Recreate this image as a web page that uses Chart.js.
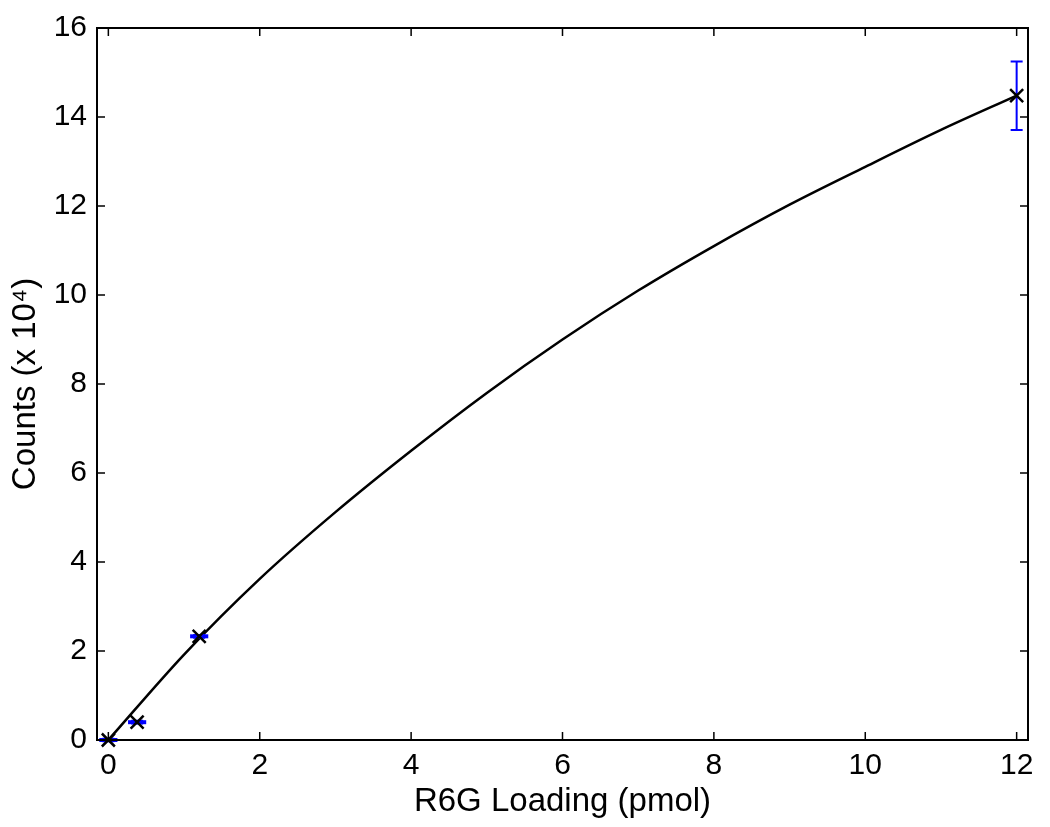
<!DOCTYPE html>
<html>
<head>
<meta charset="utf-8">
<script src="https://cdn.jsdelivr.net/npm/chart.js@4"></script>
<style>
  html, body { margin: 0; padding: 0; background: #fff; }
</style>
</head>
<body>
<canvas id="myChart" width="1050" height="827"></canvas>
<script>
// measured points (x = R6G loading, y = counts / 1e4)
const loading = [0, 0.38, 1.2, 12];
const counts = [0, 0.4, 2.33, 14.48];
const countsErr = [0.03, 0.03, 0.03, 0.77];
const loadingErr = [0.12, 0.12, 0.12, 0];

// fitted curve
const fitX = [0, 1, 2, 3, 4, 5, 6, 7, 8, 9, 10, 11, 12];
const fitY = [0, 1.92, 3.62, 5.12, 6.5, 7.8, 9.0, 10.1, 11.1, 12.03, 12.88, 13.71, 14.48];

const xTicks = [0, 2, 4, 6, 8, 10, 12];
const yTicks = [0, 2, 4, 6, 8, 10, 12, 14, 16];

const fontFamily = '"Liberation Sans", Arial, Helvetica, sans-serif';

const errorBars = {
    id: 'errorBars',
    afterDatasetsDraw(chart) {
        const ctx = chart.ctx;
        const xs = chart.scales.x, ys = chart.scales.y;
        ctx.save();
        ctx.strokeStyle = '#0000ff';
        ctx.lineWidth = 2;
        loading.forEach((lx, i) => {
            const px = xs.getPixelForValue(lx);
            const py = ys.getPixelForValue(counts[i]);
            const top = ys.getPixelForValue(counts[i] + countsErr[i]);
            const bot = ys.getPixelForValue(counts[i] - countsErr[i]);
            ctx.beginPath();
            ctx.moveTo(px, top); ctx.lineTo(px, bot);
            ctx.moveTo(px - 6, top); ctx.lineTo(px + 6, top);
            ctx.moveTo(px - 6, bot); ctx.lineTo(px + 6, bot);
            ctx.stroke();
            if (loadingErr[i] > 0) {
                const l = xs.getPixelForValue(lx - loadingErr[i]);
                const r = xs.getPixelForValue(lx + loadingErr[i]);
                ctx.lineWidth = 4;
                ctx.beginPath();
                ctx.moveTo(l, py); ctx.lineTo(r, py);
                ctx.stroke();
                ctx.lineWidth = 2;
            }
        });
        // markers on top of the bars
        ctx.strokeStyle = '#000';
        ctx.lineWidth = 2.5;
        loading.forEach((lx, i) => {
            const px = xs.getPixelForValue(lx);
            const py = ys.getPixelForValue(counts[i]);
            ctx.beginPath();
            ctx.moveTo(px - 6.5, py - 6.5); ctx.lineTo(px + 6.5, py + 6.5);
            ctx.moveTo(px - 6.5, py + 6.5); ctx.lineTo(px + 6.5, py - 6.5);
            ctx.stroke();
        });
        ctx.restore();
    }
};

const frame = {
    id: 'frame',
    afterDraw(chart) {
        const ctx = chart.ctx;
        const a = chart.chartArea;
        const xs = chart.scales.x, ys = chart.scales.y;
        ctx.save();
        ctx.strokeStyle = '#000';
        ctx.lineWidth = 1.5;
        ctx.beginPath();
        xs.ticks.forEach(t => {
            const p = xs.getPixelForValue(t.value);
            ctx.moveTo(p, a.bottom); ctx.lineTo(p, a.bottom - 8);
            ctx.moveTo(p, a.top); ctx.lineTo(p, a.top + 8);
        });
        ys.ticks.forEach(t => {
            const p = ys.getPixelForValue(t.value);
            ctx.moveTo(a.left, p); ctx.lineTo(a.left + 8, p);
            ctx.moveTo(a.right, p); ctx.lineTo(a.right - 8, p);
        });
        ctx.stroke();
        ctx.lineWidth = 2;
        ctx.strokeRect(a.left, a.top, a.right - a.left, a.bottom - a.top);
        ctx.restore();
    }
};

const ctx = document.getElementById('myChart').getContext('2d');
new Chart(ctx, {
    type: 'scatter',
    data: {
        datasets: [{
            label: 'fit',
            data: fitX.map((x, i) => ({ x: x, y: fitY[i] })),
            showLine: true,
            borderColor: '#000',
            borderWidth: 2.5,
            pointRadius: 0,
            cubicInterpolationMode: 'monotone',
            fill: false
        }, {
            label: 'data',
            data: loading.map((x, i) => ({ x: x, y: counts[i] })),
            showLine: false,
            pointRadius: 0
        }]
    },
    options: {
        responsive: false,
        animation: false,
        layout: { padding: { top: 25, right: 22, bottom: 0, left: 0 } },
        plugins: {
            legend: { display: false },
            tooltip: { enabled: false }
        },
        scales: {
            x: {
                type: 'linear',
                min: -0.15,
                max: 12.15,
                afterBuildTicks: s => { s.ticks = xTicks.map(v => ({ value: v })); },
                afterFit: s => { s.height = 87; },
                grid: { display: false, drawTicks: false },
                border: { display: false },
                ticks: { color: '#000', padding: 8, font: { family: fontFamily, size: 30 } },
                title: {
                    display: true,
                    text: 'R6G Loading (pmol)',
                    color: '#000',
                    padding: { top: 0, bottom: 5 },
                    font: { family: fontFamily, size: 33 }
                }
            },
            y: {
                min: 0,
                max: 16,
                afterBuildTicks: s => { s.ticks = yTicks.map(v => ({ value: v })); },
                afterFit: s => { s.width = 97; },
                grid: { display: false, drawTicks: false },
                border: { display: false },
                ticks: { color: '#000', padding: 10, font: { family: fontFamily, size: 30 } },
                title: {
                    display: true,
                    text: 'Counts (x 10⁴)',
                    color: '#000',
                    padding: { top: 6, bottom: 0 },
                    font: { family: fontFamily, size: 33 }
                }
            }
        }
    },
    plugins: [errorBars, frame]
});
</script>
</body>
</html>
